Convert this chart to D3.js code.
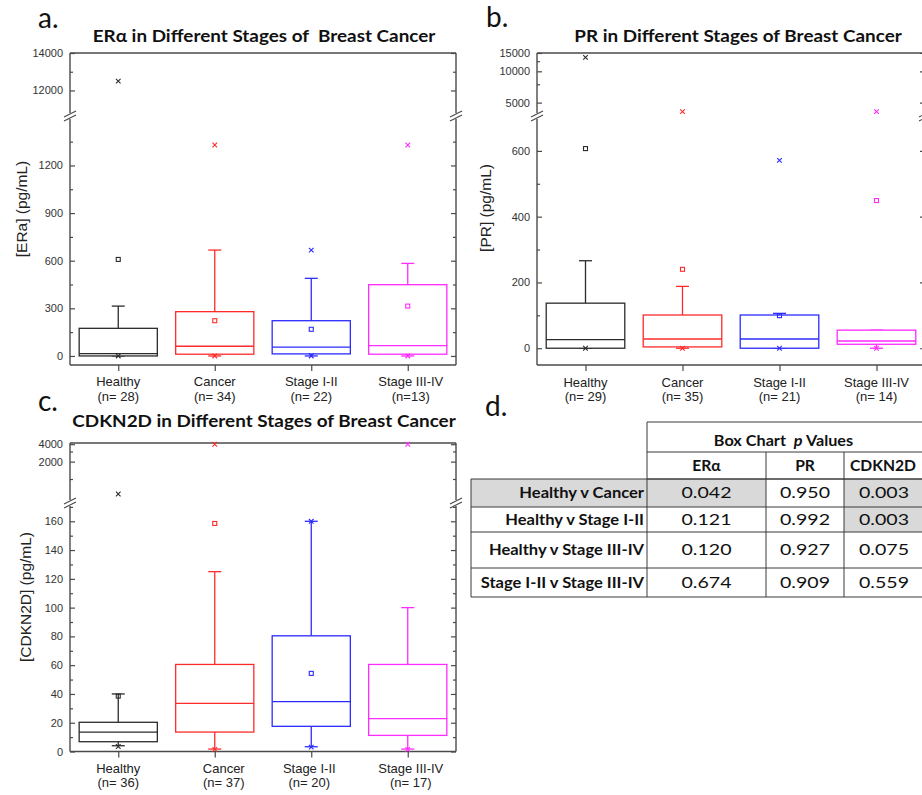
<!DOCTYPE html>
<html>
<head>
<meta charset="utf-8">
<script src="https://cdn.jsdelivr.net/npm/d3@7"></script>
<style>
  body { margin: 0; background: #fff; }
  svg { display: block; }
</style>
</head>
<body>
<svg id="fig" width="922" height="795"></svg>
<script>
// ---- data ----
const categories = ["Healthy", "Cancer", "Stage I-II", "Stage III-IV"];
const groupColors = ["#2b2b2b", "#ff2b2b", "#2b2bff", "#ff2bff"];

// ERα (pg/mL)
const eraCounts = ["(n= 28)", "(n= 34)", "(n= 22)", "(n=13)"];
const eraQ1 = [0, 11, 13, 11];
const eraMedian = [15, 61, 55, 65];
const eraQ3 = [174, 279, 222, 449];
const eraWhiskerLow = [0, 0, 0, 0];
const eraWhiskerHigh = [314, 667, 489, 583];
const eraMean = [608, 222, 168, 314];
const eraMin = [0, 0, 0, 0];
const eraMax = [12500, 1329, 667, 1329];
const eraTicks = [0, 300, 600, 900, 1200, 12000, 14000];
const eraMinorTicks = [150, 450, 750, 1050, 1350, 13000];

// PR (pg/mL)
const prCounts = ["(n= 29)", "(n= 35)", "(n= 21)", "(n= 14)"];
const prQ1 = [0, 4, 0, 12];
const prMedian = [26, 28, 28, 22];
const prQ3 = [137, 101, 101, 55];
const prWhiskerLow = [0, 0, 0, 0];
const prWhiskerHigh = [266, 188, 106, 55];
const prMean = [607, 240, 99, 449];
const prMin = [0, 0, 0, 0];
const prMax = [13600, 4100, 571, 4100];
const prTicks = [0, 200, 400, 600, 5000, 10000, 15000];
const prMinorTicks = [100, 300, 500, 7500, 12500];

// CDKN2D (pg/mL)
const cdkCounts = ["(n= 36)", "(n= 37)", "(n= 20)", "(n= 17)"];
const cdkQ1 = [6.8, 13.5, 17.5, 11.2];
const cdkMedian = [13.5, 33.5, 34.6, 22.8];
const cdkQ3 = [20.3, 60.5, 80.4, 60.5];
const cdkWhiskerLow = [4, 1.7, 3.3, 1.7];
const cdkWhiskerHigh = [40, 125, 160, 100];
const cdkMean = [38.5, 158.5, 54.3, null];
const cdkMin = [3.5, 1.5, 3, 1.5];
const cdkMax = [550, 4000, 160, 4000];
const cdkTicks = [0, 20, 40, 60, 80, 100, 120, 140, 160, 2000, 4000];
const cdkMinorTicks = [10, 30, 50, 70, 90, 110, 130, 150, 170, 1000, 3000];

// p-value table
const tableColumns = ["ERα", "PR", "CDKN2D"];
const tableRows = ["Healthy v Cancer", "Healthy v Stage I-II", "Healthy v Stage III-IV", "Stage I-II v Stage III-IV"];
const pEra = [0.042, 0.121, 0.120, 0.674];
const pPr = [0.950, 0.992, 0.927, 0.909];
const pCdk = [0.003, 0.003, 0.075, 0.559];
const highlightedRowLabels = ["Healthy v Cancer"];

// ---- layout ----
const svg = d3.select("#fig");
const titleFont = "Lato, 'Open Sans', sans-serif";
const axisFont = "'Liberation Sans', Arial, sans-serif";
const axisColor = "#4a4a4a";

const panels = [
  {
    letter: "a.", letterX: 38, letterY: 28,
    title: "ERα in Different Stages of  Breast Cancer", titleX: 264, titleY: 42,
    yTitle: "[ERa] (pg/mL)", yTitleX: 27, yTitleY: 209,
    left: 70, right: 456, top: 53, bottom: 365,
    lower: { domain: [-57, 1480], range: [365, 121] },
    upper: { domain: [10850, 14000], range: [112, 53], log: false },
    breakY: 116, labelY1: 386, labelY2: 401, labelDx: [0, 0, 0, 3],
    counts: eraCounts, q1: eraQ1, median: eraMedian, q3: eraQ3,
    wLow: eraWhiskerLow, wHigh: eraWhiskerHigh, mean: eraMean, min: eraMin, max: eraMax,
    ticks: eraTicks, minor: eraMinorTicks
  },
  {
    letter: "b.", letterX: 486, letterY: 27,
    title: "PR in Different Stages of Breast Cancer", titleX: 738, titleY: 42,
    yTitle: "[PR] (pg/mL)", yTitleX: 491, yTitleY: 208,
    left: 537, right: 925, top: 53, bottom: 365,
    lower: { domain: [-51, 700], range: [365, 118] },
    upper: { domain: [4000, 15000], range: [112.7, 53], log: true },
    breakY: 116, labelY1: 387, labelY2: 401, labelDx: [0, 0, 0, 0],
    counts: prCounts, q1: prQ1, median: prMedian, q3: prQ3,
    wLow: prWhiskerLow, wHigh: prWhiskerHigh, mean: prMean, min: prMin, max: prMax,
    ticks: prTicks, minor: prMinorTicks
  },
  {
    letter: "c.", letterX: 38, letterY: 411,
    title: "CDKN2D in Different Stages of Breast Cancer", titleX: 264, titleY: 427,
    yTitle: "[CDKN2D] (pg/mL)", yTitleX: 31, yTitleY: 597,
    left: 70, right: 456, top: 443, bottom: 751.5,
    lower: { domain: [0, 170], range: [751.5, 506.9] },
    upper: { domain: [400, 4200], range: [502, 443], log: true },
    breakY: 503, labelY1: 773, labelY2: 787, labelDx: [0, 9, -2, 3],
    counts: cdkCounts, q1: cdkQ1, median: cdkMedian, q3: cdkQ3,
    wLow: cdkWhiskerLow, wHigh: cdkWhiskerHigh, mean: cdkMean, min: cdkMin, max: cdkMax,
    ticks: cdkTicks, minor: cdkMinorTicks
  }
];

function drawPanel(p) {
  const g = svg.append("g");
  const x = d3.scalePoint().domain(categories).range([p.left, p.right]).padding(0.5);
  const boxW = x.step() * 0.81;
  const yLo = d3.scaleLinear().domain(p.lower.domain).range(p.lower.range);
  const yUp = (p.upper.log ? d3.scaleLog() : d3.scaleLinear()).domain(p.upper.domain).range(p.upper.range);
  const y = v => (v == null ? null
    : v <= p.lower.domain[1] ? yLo(v)
    : v >= p.upper.domain[0] ? yUp(v) : null);

  const inLo = v => v >= p.lower.domain[0] && v <= p.lower.domain[1];
  const inUp = v => v >= p.upper.domain[0] && v <= p.upper.domain[1] * 1.0001;

  // y axes, left (labelled) and right, ticks pointing inward
  const fmt = d3.format("d");
  const axes = [
    { scale: yLo, major: p.ticks.filter(inLo), minor: p.minor.filter(inLo) },
    { scale: yUp, major: p.ticks.filter(inUp), minor: p.minor.filter(inUp) }
  ];
  axes.forEach(a => {
    const left = g.append("g").attr("transform", `translate(${p.left},0)`)
      .call(d3.axisLeft(a.scale).tickValues(a.major).tickSize(-5).tickPadding(7).tickFormat(fmt));
    const leftMinor = g.append("g").attr("transform", `translate(${p.left},0)`)
      .call(d3.axisLeft(a.scale).tickValues(a.minor).tickSize(-3).tickFormat(""));
    const right = g.append("g").attr("transform", `translate(${p.right},0)`)
      .call(d3.axisRight(a.scale).tickValues(a.major).tickSize(-5).tickFormat(""));
    const rightMinor = g.append("g").attr("transform", `translate(${p.right},0)`)
      .call(d3.axisRight(a.scale).tickValues(a.minor).tickSize(-3).tickFormat(""));
    [left, leftMinor, right, rightMinor].forEach(s => {
      s.select(".domain").remove();
      s.selectAll("line").attr("stroke", axisColor).attr("stroke-width", 1.2);
      s.selectAll("text").attr("font-family", axisFont).attr("font-size", 11).attr("fill", "#333");
    });
  });

  // x axis with outward category ticks
  const xa = g.append("g").attr("transform", `translate(0,${p.bottom})`)
    .call(d3.axisBottom(x).tickSize(6).tickFormat(""));
  xa.select(".domain").remove();
  xa.selectAll("line").attr("stroke", axisColor).attr("stroke-width", 1.2);

  // frame
  const frame = g.append("g").attr("stroke", axisColor).attr("stroke-width", 1.4).attr("fill", "none");
  frame.append("line").attr("x1", p.left).attr("x2", p.right).attr("y1", p.top).attr("y2", p.top);
  frame.append("line").attr("x1", p.left).attr("x2", p.right).attr("y1", p.bottom).attr("y2", p.bottom);
  [p.left, p.right].forEach(xx => {
    frame.append("line").attr("x1", xx).attr("x2", xx).attr("y1", p.top).attr("y2", p.breakY - 3);
    frame.append("line").attr("x1", xx).attr("x2", xx).attr("y1", p.breakY + 3).attr("y2", p.bottom);
    // axis break marks
    [-2, 2].forEach(off => {
      frame.append("line")
        .attr("x1", xx - 6).attr("y1", p.breakY + off + 3)
        .attr("x2", xx + 6).attr("y2", p.breakY + off - 3)
        .attr("stroke-width", 1.1);
    });
  });

  // boxes
  categories.forEach((c, i) => {
    const cx = x(c);
    const col = groupColors[i];
    const bg = g.append("g").attr("stroke", col).attr("fill", "none").attr("stroke-width", 1.3);
    const yq1 = y(p.q1[i]), yq3 = y(p.q3[i]), ymed = y(p.median[i]);
    const yhi = y(p.wHigh[i]), ylo = y(p.wLow[i]);
    // whiskers
    if (yhi < yq3) {
      bg.append("line").attr("x1", cx).attr("x2", cx).attr("y1", yq3).attr("y2", yhi);
    }
    bg.append("line").attr("x1", cx - 6.5).attr("x2", cx + 6.5).attr("y1", yhi).attr("y2", yhi);
    if (ylo > yq1) {
      bg.append("line").attr("x1", cx).attr("x2", cx).attr("y1", yq1).attr("y2", ylo);
    }
    bg.append("line").attr("x1", cx - 6.5).attr("x2", cx + 6.5).attr("y1", ylo).attr("y2", ylo);
    // box and median
    bg.append("rect").attr("x", cx - boxW / 2).attr("y", yq3)
      .attr("width", boxW).attr("height", Math.max(0.5, yq1 - yq3)).attr("fill", "#fff");
    bg.append("line").attr("x1", cx - boxW / 2).attr("x2", cx + boxW / 2).attr("y1", ymed).attr("y2", ymed);
    // mean (square)
    const ym = y(p.mean[i]);
    if (ym != null) {
      bg.append("rect").attr("x", cx - 2).attr("y", ym - 2).attr("width", 4).attr("height", 4)
        .attr("stroke-width", 1.1);
    }
    // min / max (cross)
    [p.min[i], p.max[i]].forEach(v => {
      const yy = y(v);
      if (yy == null) return;
      bg.append("path").attr("d", `M${cx - 2.3},${yy - 2.3}L${cx + 2.3},${yy + 2.3}M${cx - 2.3},${yy + 2.3}L${cx + 2.3},${yy - 2.3}`)
        .attr("stroke-width", 1.1);
    });
  });

  // category labels
  categories.forEach((c, i) => {
    const t = g.append("text").attr("text-anchor", "middle")
      .attr("font-family", axisFont).attr("font-size", 13).attr("fill", "#222");
    t.append("tspan").attr("x", x(c) + p.labelDx[i]).attr("y", p.labelY1).text(c);
    t.append("tspan").attr("x", x(c) + p.labelDx[i]).attr("y", p.labelY2).text(p.counts[i]);
  });

  // y title
  g.append("text")
    .attr("transform", `translate(${p.yTitleX},${p.yTitleY}) rotate(-90)`)
    .attr("text-anchor", "middle").attr("font-family", axisFont).attr("font-size", 15.5).attr("fill", "#222")
    .text(p.yTitle);

  // title and panel letter
  g.append("text")
    .attr("transform", `translate(${p.titleX},${p.titleY}) scale(1.08,1)`)
    .attr("text-anchor", "middle")
    .attr("font-family", titleFont).attr("font-weight", 700).attr("font-size", 17.5).attr("fill", "#111")
    .attr("xml:space", "preserve").style("white-space", "pre")
    .text(p.title);
  g.append("text").attr("x", p.letterX).attr("y", p.letterY)
    .attr("font-family", titleFont).attr("font-size", 28).attr("fill", "#111")
    .text(p.letter);
}

panels.forEach(drawPanel);

// ---- d. p-value table ----
(function drawTable() {
  const g = svg.append("g");
  const labelLeft = 471;
  const colEdges = [647, 766, 844, 924];
  const headY = [422, 452, 479];
  const rowEdges = [479, 507, 532, 568, 597];
  const fill = "#d9d9d9";
  const lineCol = "#3a3a3a";
  const fmt = d3.format(".3f");
  const columns = [pEra, pPr, pCdk];

  // text placed with a slight horizontal widening
  const put = (x, y, sx, anchor, weight) => g.append("text")
    .attr("transform", `translate(${x},${y}) scale(${sx},1)`)
    .attr("text-anchor", anchor).attr("font-family", titleFont).attr("font-weight", weight)
    .attr("font-size", 14.5).attr("fill", "#111");

  g.append("text").attr("x", 485).attr("y", 416)
    .attr("font-family", titleFont).attr("font-size", 28).attr("fill", "#111").text("d.");

  // shaded cells
  tableRows.forEach((r, ri) => {
    if (highlightedRowLabels.includes(r)) {
      g.append("rect").attr("x", labelLeft).attr("y", rowEdges[ri])
        .attr("width", colEdges[0] - labelLeft).attr("height", rowEdges[ri + 1] - rowEdges[ri]).attr("fill", fill);
    }
    columns.forEach((vals, ci) => {
      if (vals[ri] < 0.05) {
        g.append("rect").attr("x", colEdges[ci]).attr("y", rowEdges[ri])
          .attr("width", colEdges[ci + 1] - colEdges[ci]).attr("height", rowEdges[ri + 1] - rowEdges[ri]).attr("fill", fill);
      }
    });
  });

  const lines = g.append("g").attr("stroke", lineCol).attr("stroke-width", 1);
  // header grid
  headY.forEach(yy => lines.append("line").attr("x1", colEdges[0]).attr("x2", colEdges[3]).attr("y1", yy).attr("y2", yy));
  lines.append("line").attr("x1", colEdges[0]).attr("x2", colEdges[0]).attr("y1", headY[0]).attr("y2", rowEdges[4]);
  [1, 2].forEach(k => lines.append("line").attr("x1", colEdges[k]).attr("x2", colEdges[k]).attr("y1", headY[1]).attr("y2", rowEdges[4]));
  // body grid
  rowEdges.forEach(yy => lines.append("line").attr("x1", labelLeft).attr("x2", colEdges[3]).attr("y1", yy).attr("y2", yy));
  lines.append("line").attr("x1", labelLeft).attr("x2", labelLeft).attr("y1", rowEdges[0]).attr("y2", rowEdges[4]);

  // header text
  const h = put((colEdges[0] + colEdges[3]) / 2 - 2, 446, 1.12, "middle", 700)
    .attr("xml:space", "preserve").style("white-space", "pre");
  h.append("tspan").text("Box Chart  ");
  h.append("tspan").attr("font-style", "italic").text("p");
  h.append("tspan").text(" Values");
  tableColumns.forEach((c, ci) => {
    put((colEdges[ci] + colEdges[ci + 1]) / 2 - (ci === 2 ? 1 : 0), 471, 1.08, "middle", 700).text(c);
  });

  // body text
  tableRows.forEach((r, ri) => {
    const cy = (rowEdges[ri] + rowEdges[ri + 1]) / 2 + 5;
    put(colEdges[0] - 3, cy, 1.14, "end", 700).text(r);
    columns.forEach((vals, ci) => {
      put((colEdges[ci] + colEdges[ci + 1]) / 2, cy, 1.35, "middle", 400).text(fmt(vals[ri]));
    });
  });
})();
</script>
</body>
</html>
